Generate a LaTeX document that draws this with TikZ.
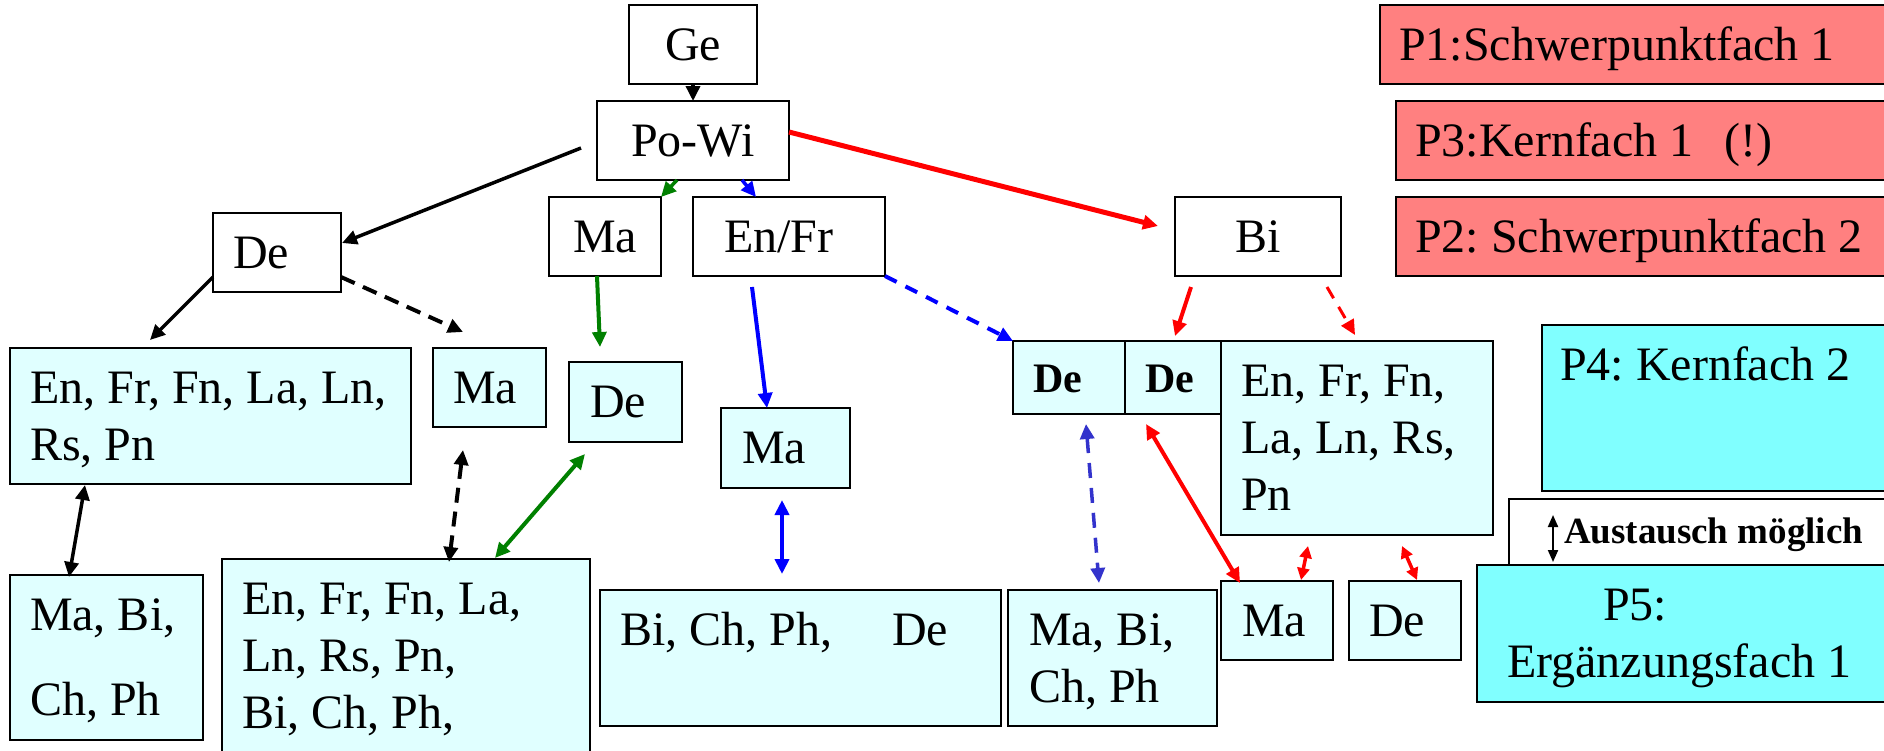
\documentclass[tikz,border=0pt]{standalone}
\usepackage{fontspec}
\setmainfont{Liberation Serif}
\usetikzlibrary{arrows.meta, calc}
\definecolor{paleblue}{HTML}{E0FFFF}
\definecolor{cyanbox}{HTML}{80FFFF}
\definecolor{redbox}{HTML}{FF8080}
\definecolor{pptgreen}{HTML}{008000}
\definecolor{dashblue}{HTML}{3333CC}

\begin{document}
\frenchspacing
\begin{tikzpicture}[x=1pt, y=-1pt,
    every node/.style={font=\fontsize{48}{57}\selectfont},
    box/.style={draw, line width=2pt, anchor=north west, outer sep=0pt, inner ysep=0pt, inner xsep=20pt, align=flush left, text height=55pt},
    subj/.style={box, fill=paleblue},
    pbox/.style={box, fill=redbox, inner xsep=19pt},
    kbox/.style={box, fill=cyanbox},
    bold/.style={font=\fontsize{42}{48}\selectfont\bfseries},
    arrow/.style={-{Triangle[length=15pt,width=14pt]}, line width=3.5pt},
    both/.style={{Triangle[length=15pt,width=14pt]}-{Triangle[length=15pt,width=14pt]}, line width=3.5pt},
    smallboth/.style={{Triangle[length=12pt,width=12pt]}-{Triangle[length=12pt,width=12pt]}, line width=3.5pt},
    broken/.style={dash pattern=on 15pt off 9pt, line width=4pt}
]
\useasboundingbox (0,0) rectangle (1884,750);
\fill[white] (0,0) rectangle (1884,750);
\clip (0,0) rectangle (1884,750);
\node[box, align=center, text width=88pt, text depth=24pt] (ge) at (629,5) {Ge};
\node[box, align=center, text width=152pt, text depth=24pt] (powi) at (597,101) {Po-Wi};
\node[box, text width=88pt, text depth=24pt] (de) at (213,213) {De};
\node[box, align=center, text width=72pt, text depth=24pt] (ma) at (549,197) {Ma};
\node[box, inner xsep=31pt, text width=130pt, text depth=24pt] (enfr) at (693,197) {En/Fr};
\node[box, align=center, text width=126pt, text depth=24pt] (bi) at (1175,197) {Bi};
\node[pbox, text width=502pt, text depth=24pt] (pa) at (1380,5) {P1:Schwerpunktfach 1};
\node[pbox, text width=486pt, text depth=24pt] (pc) at (1396,101) {P3:Kernfach 1\hspace{0.65em}(!)};
\node[pbox, text width=486pt, text depth=24pt] (pb) at (1396,197) {P2: Schwerpunktfach 2};
\node[subj, text width=361pt, text depth=81pt] (enl) at (10,348) {\mbox{En, Fr, Fn, La, Ln,}\\Rs, Pn};
\node[subj, text width=73pt, text depth=24pt] (mas) at (433,348) {Ma};
\node[subj, inner xsep=21pt, text width=71pt, text depth=25pt] (deg) at (569,362) {De};
\node[subj, inner xsep=21pt, text width=87pt, text depth=25pt] (mab) at (721,408) {Ma};
\node[subj, bold, text width=72pt, text height=51pt, text depth=22pt] (dda) at (1013,341) {De};
\node[subj, bold, text width=56pt, text height=51pt, text depth=22pt] (ddb) at (1125,341) {De};
\node[subj, text width=232pt, text depth=139pt] (enr) at (1221,341) {\mbox{En, Fr, Fn,}\\\mbox{La, Ln, Rs,}\\Pn};
\node[kbox, inner xsep=18pt, text width=342pt, text depth=111pt] (pd) at (1542,325) {P4: Kernfach 2};
\node[box, fill=white, font=\fontsize{37}{43}\selectfont\bfseries, inner xsep=55pt, text width=330pt, text height=44pt, text depth=37pt] (swap) at (1509,499) {Austausch möglich};
\node[kbox, inner xsep=30pt, text width=383pt, text depth=82pt] (pe) at (1477,565) {\hspace*{96pt}P5:\\Ergänzungsfach 1};
\node[subj, text width=153pt, text depth=110pt] (mbl) at (10,575) {Ma, Bi,\\[28pt]Ch, Ph};
\node[subj, text width=328pt, text depth=186pt] (ebig) at (222,559) {\mbox{En, Fr, Fn, La,}\\Ln, Rs, Pn,\\Bi, Ch, Ph,};
\node[subj, text width=361pt, text depth=81pt] (bicph) at (600,590) {\mbox{Bi, Ch, Ph,\hspace*{60pt}De}};
\node[subj, inner xsep=21pt, text width=167pt, text depth=81pt] (mbr) at (1008,590) {Ma, Bi,\\Ch, Ph};
\node[subj, inner xsep=21pt, text width=70pt, text depth=24pt] (mar) at (1221,581) {Ma};
\node[subj, text width=72pt, text depth=24pt] (der) at (1349,581) {De};
\draw[arrow] (ge) -- (powi);
\draw[arrow] ($(powi.west)+(-16,7.5)$) -- ($(de.east)+(1,-9.5)$);
\draw[arrow, pptgreen] ($(powi.south)+(-16,0)$) -- (ma.north east);
\draw[arrow, blue] ($(powi.south)+(49,0)$) -- ($(enfr.north)+(-33,0)$);
\draw[arrow, red, line width=5pt] ($(powi.east)+(0,-8.5)$) -- ($(bi.west)+(-17,-10.5)$);
\draw[arrow] ($(de.south west)+(0,-15)$) -- ($(enl.north)+(-60.5,-8)$);
\draw[arrow, broken] ($(de.south east)+(0,-15)$) -- ($(mas.north)+(-26.5,-16)$);
\draw[arrow, pptgreen, line width=4pt] ($(ma.south)+(-8,0)$) -- ($(deg.north)+(-25.5,-15)$);
\draw[arrow, blue, line width=4pt] ($(enfr.south)+(-37,11)$) -- ($(mab.north)+(-18.5,0)$);
\draw[arrow, blue, line width=4pt, dash pattern=on 13pt off 10pt] (enfr.south east) -- (dda.north west);
\draw[arrow, red, line width=4pt] ($(bi.south)+(-67,11)$) -- ($(ddb.north)+(2,-5)$);
\draw[arrow, red, line width=3pt, dash pattern=on 13pt off 10pt] ($(bi.south)+(69,11)$) -- ($(enr.north)+(-2,-6)$);
\draw[both] ($(enl.south)+(-125.5,1)$) -- ($(mbl.north)+(-37.5,2)$);
\draw[both, broken] ($(mas.south)+(-26.5,23)$) -- ($(ebig.north)+(43,3)$);
\draw[both, pptgreen, line width=4pt] ($(deg.south)+(-40.5,12)$) -- ($(ebig.north east)+(-95,-1)$);
\draw[both, blue, line width=4pt] ($(mab.south)+(-3.5,12)$) -- ($(bicph.north)+(-18.5,-16)$);
\draw[both, dashblue, dash pattern=on 15pt off 10pt] ($(dda.south)+(17,10)$) -- ($(mbr.north)+(-13.5,-7)$);
\draw[both, red, line width=4pt] ($(ddb.south)+(-27,10)$) -- ($(mar.north west)+(19,2)$);
\draw[smallboth, red] ($(enr.south)+(-49,11)$) -- ($(mar.north)+(24,-1)$);
\draw[smallboth, red] ($(enr.south)+(45,11)$) -- ($(der.north)+(12,-1)$);
\draw[{Triangle[length=12pt,width=10pt]}-{Triangle[length=12pt,width=10pt]}, line width=2pt] ($(swap.north west)+(44,16)$) -- ($(swap.north west)+(44,63)$);
\end{tikzpicture}
\end{document}
